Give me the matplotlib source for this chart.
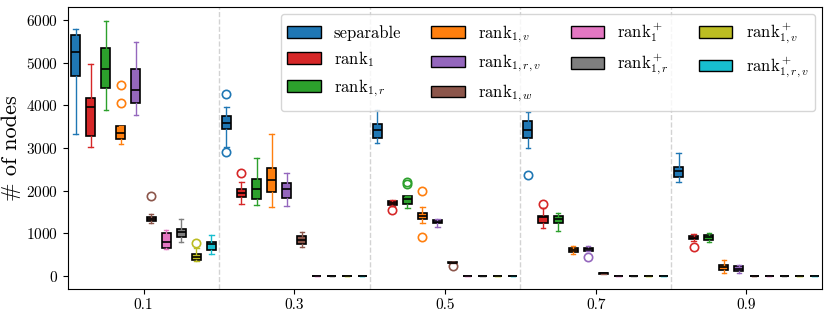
import matplotlib
matplotlib.use("Agg")
import matplotlib.pyplot as plt
from matplotlib.patches import Patch

plt.rcParams['font.family'] = 'serif'
plt.rcParams['font.serif'] = ['cmr10']
plt.rcParams['mathtext.fontset'] = 'cm'
plt.rcParams['axes.formatter.use_mathtext'] = True

groups = [0.1, 0.3, 0.5, 0.7, 0.9]
group_labels = ['0.1', '0.3', '0.5', '0.7', '0.9']

# per group: (whislo, q1, med, q3, whishi)
separable = [(3320, 4680, 5250, 5640, 5780), (3030, 3435, 3590, 3750, 3950),
             (3120, 3240, 3420, 3560, 3890), (3010, 3225, 3420, 3640, 3850),
             (2195, 2325, 2465, 2545, 2890)]
separable_out = [[], [4255, 2910], [], [2370], []]

rank1 = [(3020, 3285, 3950, 4160, 4960), (1680, 1860, 1950, 2030, 2210),
         (1650, 1665, 1710, 1755, 1780), (1130, 1255, 1375, 1420, 1600),
         (825, 860, 905, 945, 985)]
rank1_out = [[], [2405], [1545], [1700], [685]]

rank1_r = [(3900, 4395, 4840, 5330, 5980), (1660, 1800, 2030, 2265, 2755),
           (1585, 1700, 1800, 1875, 1875), (1055, 1235, 1335, 1410, 1470),
           (790, 845, 920, 975, 1000)]
rank1_r_out = [[], [], [2210, 2160], [], []]

rank1_v = [(3085, 3200, 3340, 3510, 3510), (1610, 1975, 2250, 2535, 3325),
           (1235, 1330, 1420, 1485, 1625), (515, 570, 610, 650, 710),
           (75, 140, 205, 260, 390)]
rank1_v_out = [[4465, 4060], [], [1990, 920], [], []]

rank1_rv = [(3765, 4060, 4355, 4840, 5480), (1640, 1835, 2040, 2170, 2420),
            (1155, 1235, 1270, 1310, 1350), (580, 595, 625, 650, 705),
            (65, 125, 180, 240, 260)]
rank1_rv_out = [[], [], [], [450], []]

rank1_w = [(1235, 1295, 1340, 1390, 1445), (685, 750, 845, 935, 1040),
           (300, 300, 320, 335, 335), (60, 60, 65, 70, 70),
           (0, 0, 5, 10, 10)]
rank1_w_out = [[1875], [], [240], [], []]

rank1p = [(625, 670, 805, 1000, 1075), (0, 0, 0, 0, 0), (0, 0, 0, 0, 0),
          (0, 0, 0, 0, 0), (0, 0, 0, 0, 0)]
rank1p_out = [[], [], [], [], []]

rank1_rp = [(805, 920, 1040, 1115, 1350), (0, 0, 0, 0, 0), (0, 0, 0, 0, 0),
            (0, 0, 0, 0, 0), (0, 0, 0, 0, 0)]
rank1_rp_out = [[], [], [], [], []]

rank1_vp = [(355, 375, 450, 530, 660), (0, 0, 0, 0, 0), (0, 0, 0, 0, 0),
            (0, 0, 0, 0, 0), (0, 0, 0, 0, 0)]
rank1_vp_out = [[780], [], [], [], []]

rank1_rvp = [(515, 610, 750, 805, 960), (0, 0, 0, 0, 0), (0, 0, 0, 0, 0),
             (0, 0, 0, 0, 0), (0, 0, 0, 0, 0)]
rank1_rvp_out = [[], [], [], [], []]

series = [
    ('separable', 'tab:blue', separable, separable_out),
    (r'$\mathrm{rank}_1$', 'tab:red', rank1, rank1_out),
    (r'$\mathrm{rank}_{1,r}$', 'tab:green', rank1_r, rank1_r_out),
    (r'$\mathrm{rank}_{1,v}$', 'tab:orange', rank1_v, rank1_v_out),
    (r'$\mathrm{rank}_{1,r,v}$', 'tab:purple', rank1_rv, rank1_rv_out),
    (r'$\mathrm{rank}_{1,w}$', 'tab:brown', rank1_w, rank1_w_out),
    (r'$\mathrm{rank}_1^+$', 'tab:pink', rank1p, rank1p_out),
    (r'$\mathrm{rank}_{1,r}^+$', 'tab:gray', rank1_rp, rank1_rp_out),
    (r'$\mathrm{rank}_{1,v}^+$', 'tab:olive', rank1_vp, rank1_vp_out),
    (r'$\mathrm{rank}_{1,r,v}^+$', 'tab:cyan', rank1_rvp, rank1_rvp_out),
]

fig, ax = plt.subplots(figsize=(8.31, 3.19), dpi=100)
fig.subplots_adjust(left=0.082, right=0.989, bottom=0.094, top=0.978)

n = len(series)
step = 0.02
handles = []
for i, (label, color, stats, outs) in enumerate(series):
    offset = (i - (n - 1) / 2) * step
    bstats = []
    for (lo, q1, med, q3, hi), fl in zip(stats, outs):
        bstats.append(dict(whislo=lo, q1=q1, med=med, q3=q3, whishi=hi, fliers=fl))
    pos = [g + offset for g in groups]
    ax.bxp(bstats, positions=pos, widths=0.012, patch_artist=True,
           manage_ticks=False,
           boxprops=dict(facecolor=color, edgecolor='black', linewidth=1.2),
           medianprops=dict(color='black', linewidth=1.2),
           whiskerprops=dict(color=color, linewidth=1.0),
           capprops=dict(color=color, linewidth=1.0),
           flierprops=dict(marker='o', markerfacecolor='none',
                           markeredgecolor=color, markersize=6, markeredgewidth=1.2))
    handles.append(Patch(facecolor=color, edgecolor='black', label=label))

for xv in [0.2, 0.4, 0.6, 0.8]:
    ax.axvline(xv, color='lightgray', linestyle='--', linewidth=1.0, zorder=0)

ax.set_xlim(0, 1)
ax.set_ylim(-300, 6300)
ax.set_xticks(groups)
ax.set_xticklabels(group_labels)
ax.set_yticks([0, 1000, 2000, 3000, 4000, 5000, 6000])
ax.tick_params(labelsize=11)
ax.set_ylabel(r'# of nodes', fontsize=16)

ax.legend(handles=handles, ncol=4, loc='upper right', fontsize=12,
          handlelength=2.0, columnspacing=1.8, borderaxespad=0.4)

plt.savefig("out.png")
